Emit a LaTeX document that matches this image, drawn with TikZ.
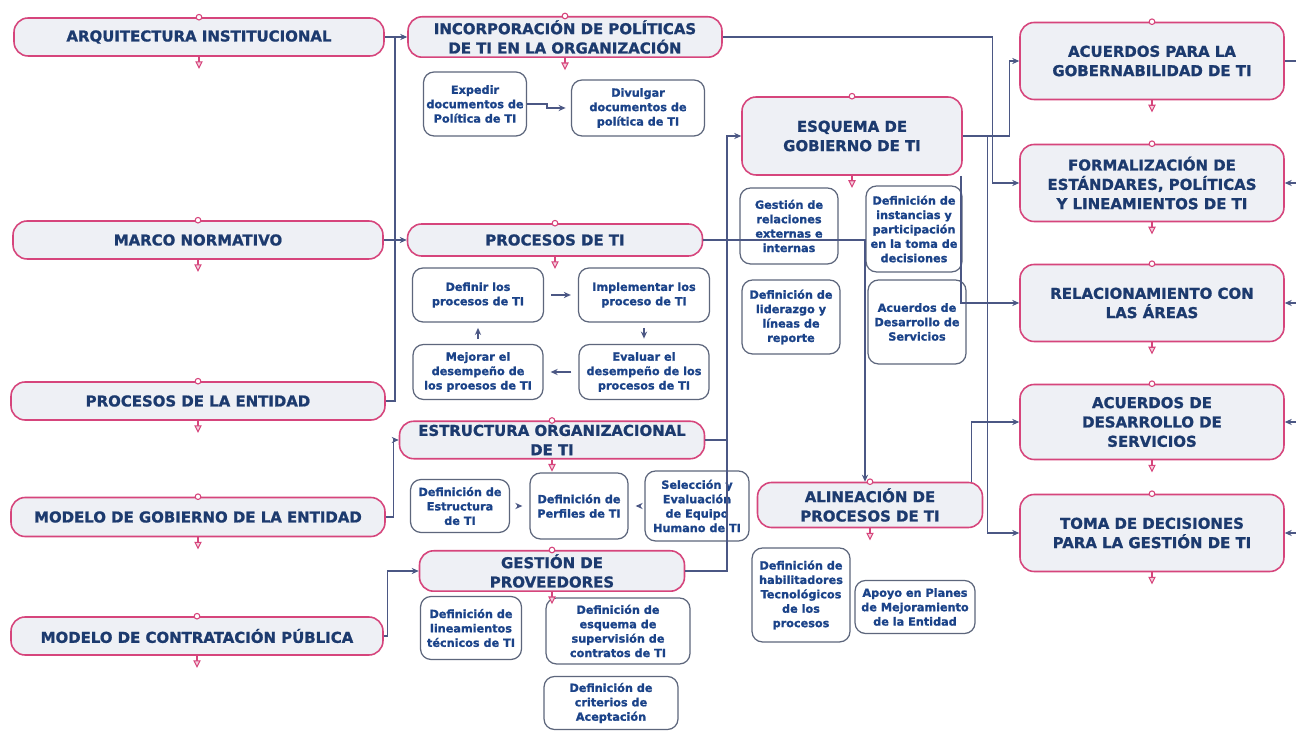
\documentclass[tikz,border=0pt]{standalone}
\usepackage{fontspec}
\setmainfont{DejaVu Sans}[BoldFeatures={FakeBold=1.2}]
\usetikzlibrary{calc,arrows.meta}
\definecolor{pinkline}{HTML}{D6457C}
\definecolor{bigtext}{HTML}{1C3A6E}
\definecolor{smalltext}{HTML}{1B4389}
\definecolor{boxgrey}{HTML}{EEF0F5}
\definecolor{smallline}{HTML}{5D667C}
\definecolor{connline}{HTML}{4B5784}
\def\pinkmarks#1{\draw[pinkline, line width=0.6pt, fill=white] (#1.north) circle (1.6pt);
	\draw[pinkline, line width=0.6pt] (#1.south) -- ++(0,5);
	\draw[pinkline, line width=0.6pt, fill=pinkline!25] ($(#1.south)+(-3,5)$) -- ($(#1.south)+(3,5)$) -- ($(#1.south)+(0,11)$) -- cycle;}

\begin{document}
\begin{tikzpicture}[x=0.02cm, y=-0.02cm, >={Stealth[length=4pt,width=3.5pt]},
	bigbox/.style={draw=pinkline, line width=0.9pt, fill=boxgrey, rounded corners=8pt, text=bigtext, font=\fontsize{8.5}{11}\selectfont\bfseries, align=center, inner sep=2pt},
	smallbox/.style={draw=smallline, line width=0.7pt, fill=white, rounded corners=6pt, text=smalltext, font=\fontsize{6.4}{8.2}\selectfont\bfseries, align=center, inner sep=1pt},
	conn/.style={draw=connline, line width=0.8pt}]
			%%%%% START %%%%%
			
			\useasboundingbox[fill=white] (0,0) rectangle (1296,732);
			
			\node[bigbox, minimum width=7.4cm, minimum height=0.76cm] (arq) at (199, 37) {ARQUITECTURA INSTITUCIONAL};
			\node[bigbox, minimum width=7.4cm, minimum height=0.76cm] (marco) at (198, 240) {MARCO NORMATIVO};
			\node[bigbox, minimum width=7.48cm, minimum height=0.76cm] (procent) at (198, 401) {PROCESOS DE LA ENTIDAD};
			\node[bigbox, minimum width=7.48cm, minimum height=0.78cm] (modgob) at (198, 517) {MODELO DE GOBIERNO DE LA ENTIDAD};
			\node[bigbox, minimum width=7.44cm, minimum height=0.76cm] (modcon) at (197, 636) {MODELO DE CONTRATACIÓN PÚBLICA};
			
			\node[bigbox, minimum width=6.28cm, minimum height=0.8cm] (incorp) at (565, 37) {INCORPORACIÓN DE POLÍTICAS\\DE TI EN LA ORGANIZACIÓN};
			\node[smallbox, minimum width=2.06cm, minimum height=1.28cm] (expedir) at (475, 104) {Expedir\\documentos de\\Política de TI};
			\node[smallbox, minimum width=2.66cm, minimum height=1.12cm] (divulgar) at (638, 108) {Divulgar\\documentos de\\política de TI};
			
			\node[bigbox, minimum width=5.9cm, minimum height=0.64cm] (proceti) at (555, 240) {PROCESOS DE TI};
			\node[smallbox, minimum width=2.62cm, minimum height=1.08cm] (definir) at (478, 295) {Definir los\\procesos de TI};
			\node[smallbox, minimum width=2.62cm, minimum height=1.08cm] (implem) at (644, 295) {Implementar los\\proceso de TI};
			\node[smallbox, minimum width=2.6cm, minimum height=1.1cm] (mejorar) at (478, 372) {Mejorar el\\desempeño de\\los proesos de TI};
			\node[smallbox, minimum width=2.6cm, minimum height=1.1cm] (evaluar) at (644, 372) {Evaluar el\\desempeño de los\\procesos de TI};
			
			\node[bigbox, minimum width=6.1cm, minimum height=0.72cm] (estruc) at (552, 440) {ESTRUCTURA ORGANIZACIONAL\\DE TI};
			\node[smallbox, minimum width=1.98cm, minimum height=1.06cm] (defest) at (460, 506) {Definición de\\Estructura\\de TI};
			\node[smallbox, minimum width=1.96cm, minimum height=1.32cm] (defper) at (579, 506) {Definición de\\Perfiles de TI};
			\node[smallbox, minimum width=2.08cm, minimum height=1.4cm] (selecc) at (697, 506) {Selección y\\Evaluación\\de Equipo\\Humano de TI};
			
			\node[bigbox, minimum width=5.3cm, minimum height=0.76cm] (gestprov) at (552, 571) {GESTIÓN DE\\PROVEEDORES};
			\node[smallbox, minimum width=2.02cm, minimum height=1.26cm] (deflin) at (471, 628) {Definición de\\lineamientos\\técnicos de TI};
			\node[smallbox, minimum width=2.88cm, minimum height=1.32cm] (defesq) at (618, 631) {Definición de\\esquema de\\supervisión de\\contratos de TI};
			\node[smallbox, minimum width=2.68cm, minimum height=1.06cm] (defcrit) at (611, 703) {Definición de\\criterios de\\Aceptación};
			
			\node[bigbox, minimum width=4.4cm, minimum height=1.56cm] (esquema) at (852, 136) {ESQUEMA DE\\GOBIERNO DE TI};
			\node[smallbox, minimum width=1.96cm, minimum height=1.52cm] (gestrel) at (789, 226) {Gestión de\\relaciones\\externas e\\internas};
			\node[smallbox, minimum width=1.92cm, minimum height=1.72cm] (definst) at (914, 229) {Definición de\\instancias y\\participación\\en la toma de\\decisiones};
			\node[smallbox, minimum width=1.96cm, minimum height=1.48cm] (deflid) at (791, 317) {Definición de\\liderazgo y\\líneas de\\reporte};
			\node[smallbox, minimum width=1.96cm, minimum height=1.68cm] (acudes) at (917, 322) {Acuerdos de\\Desarrollo de\\Servicios};
			
			\node[bigbox, minimum width=4.5cm, minimum height=0.9cm] (alinea) at (870, 505) {ALINEACIÓN DE\\PROCESOS DE TI};
			\node[smallbox, minimum width=1.96cm, minimum height=1.88cm] (defhab) at (801, 595) {Definición de\\habilitadores\\Tecnológicos\\de los\\procesos};
			\node[smallbox, minimum width=2.4cm, minimum height=1.06cm] (apoyo) at (915, 607) {Apoyo en Planes\\de Mejoramiento\\de la Entidad};
			
			\node[bigbox, minimum width=5.28cm, minimum height=1.54cm] (acugob) at (1152, 61) {ACUERDOS PARA LA\\GOBERNABILIDAD DE TI};
			\node[bigbox, minimum width=5.28cm, minimum height=1.54cm] (formal) at (1152, 183) {FORMALIZACIÓN DE\\ESTÁNDARES, POLÍTICAS\\Y LINEAMIENTOS DE TI};
			\node[bigbox, minimum width=5.28cm, minimum height=1.54cm] (relac) at (1152, 303) {RELACIONAMIENTO CON\\LAS ÁREAS};
			\node[bigbox, minimum width=5.28cm, minimum height=1.5cm] (acuserv) at (1152, 422) {ACUERDOS DE\\DESARROLLO DE\\SERVICIOS};
			\node[bigbox, minimum width=5.28cm, minimum height=1.54cm] (toma) at (1152, 533) {TOMA DE DECISIONES\\PARA LA GESTIÓN DE TI};
			
			\coordinate (busL) at (395, 37);
			\coordinate (busM) at (727, 440);
			\coordinate (edgeR) at (1296, 0);
			
			\draw[conn,->] (arq) -- (incorp);
			\draw[conn,->] (marco) -- (proceti);
			\draw[conn] (procent.east) -| (busL);
			\draw[conn,->] (modgob.east) -- ++(8,0) |- (estruc.west);
			\draw[conn,->] (modcon.east) -- ++(4,0) |- (gestprov.west);
			
			\draw[conn,->,shorten >=3pt] (expedir.east) -- ++(20,0) |- (divulgar.west);
			\draw[conn,->,shorten <=4pt,shorten >=4pt] (definir) -- (implem);
			\draw[conn,->,shorten <=3pt,shorten >=3pt] (implem) -- (evaluar);
			\draw[conn,->,shorten <=4pt,shorten >=4pt] (evaluar) -- (mejorar);
			\draw[conn,->,shorten <=3pt,shorten >=3pt] (mejorar) -- (definir);
			\draw[conn,->,shorten <=4pt,shorten >=4pt] (defest) -- (defper);
			\draw[conn,->,shorten <=4pt,shorten >=4pt] (selecc) -- (defper);
			
			\draw[conn,->] (estruc.east) -- (busM) |- (esquema.west);
			\draw[conn] (gestprov.east) -| (busM);
			\draw[conn,->] (proceti.east) -| ([xshift=-0.1cm]alinea.north);
			\draw[conn,->] ([xshift=-0.24cm]alinea.north east) |- (acuserv.west);
			
			\draw[conn,->] (incorp.east) -| ([xshift=-0.54cm]formal.west) -- (formal.west);
			\draw[conn,->] (esquema.east) -| ([xshift=-0.2cm]acugob.west) -- (acugob.west);
			\draw[conn,->] (esquema.east) -| ([xshift=-0.64cm]toma.west) -- (toma.west);
			\draw[conn,->] ([xshift=-1pt]esquema.south east) |- (relac.west);
			
			\draw[conn] (acugob.east) -- (acugob.east -| edgeR);
			\foreach \n in {formal,relac,acuserv,toma}
				\draw[conn,<-] (\n.east) -- (\n.east -| edgeR);
			
			\foreach \n in {arq,marco,procent,modgob,modcon,incorp,proceti,estruc,gestprov,esquema,alinea,acugob,formal,relac,acuserv,toma}
				{\pinkmarks{\n}}
			
			%%%%% END %%%%%
		\end{tikzpicture}
\end{document}
